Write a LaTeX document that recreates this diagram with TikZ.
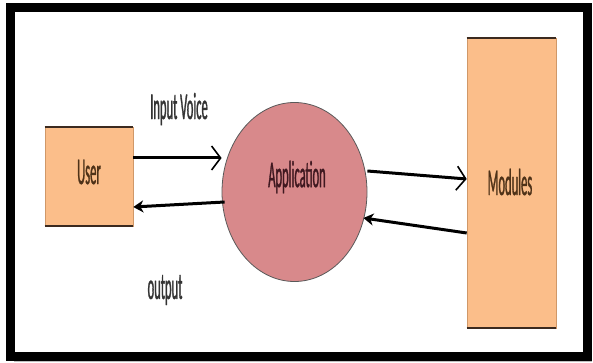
\documentclass[tikz,border=0pt]{standalone}
\usepackage{fontspec}
\newfontfamily\narrowfont[FakeStretch=0.33,FakeBold=0.8]{Carlito}
\usetikzlibrary{arrows.meta,shapes.geometric}
\definecolor{peach}{HTML}{FBBE8A}
\definecolor{rose}{HTML}{D8898B}
\definecolor{boxedge}{HTML}{3B2A1F}
\definecolor{boxside}{HTML}{D09868}
\definecolor{browntext}{HTML}{4E3218}
\definecolor{apptext}{HTML}{3F1820}
\definecolor{labeltext}{HTML}{333333}
\tikzset{
  x=1pt, y=-1pt,
  txt/.style={font=\narrowfont\fontsize{38}{38}\selectfont, inner sep=0pt},
  block/.style={rectangle, fill=peach, draw=boxside, line width=0.6pt, inner sep=0pt},
  blockedge/.style={draw=boxedge, line width=2pt},
  bubble/.style={ellipse, fill=rose, draw=black!65, line width=0.8pt, inner sep=0pt},
  fwd/.style={draw=black, line width=3pt, -{Straight Barb[length=9pt, width=24pt, line width=1.6pt]}},
  back/.style={draw=black, line width=3pt, -{Stealth[length=10pt, width=12pt, inset=3pt]}},
}
\begin{document}
\begin{tikzpicture}
\useasboundingbox (0,0) rectangle (593,363);
% page frame with a faint shadow
\draw[black!25, line width=3pt] (14,360) -- (590,360) -- (590,12);
\draw[black, line width=9pt] (10,8) rectangle (587,356);

% blocks
\node[block, minimum width=88pt, minimum height=99pt] (user) at (89,176.5) {};
\draw[blockedge] (user.north west) -- (user.north east);
\draw[blockedge] (user.south west) -- (user.south east);
\node[txt, text=browntext] (usertext) at (89,172) {User};

\node[block, minimum width=89pt, minimum height=290pt] (modules) at (511.5,183) {};
\draw[blockedge] (modules.north west) -- (modules.north east);
\draw[blockedge] (modules.south west) -- (modules.south east);
\node[txt, text=browntext] (modtext) at (510,182) {Modules};

\node[bubble, minimum width=145pt, minimum height=179pt] (app) at (294.5,192) {};
\node[txt, text=apptext] (apptitle) at (297,177) {Application};

% flows
\draw[fwd] ([yshift=18.5pt]user.east) -- ([yshift=34pt]app.west);
\draw[back] ([xshift=3pt,yshift=-10pt]app.west) -- ([yshift=-30.5pt]user.east);
\draw[fwd] ([yshift=21pt]app.east) -- ([yshift=4pt]modules.west);
\draw[back] ([yshift=-50pt]modules.west) -- ([xshift=-4pt,yshift=-26pt]app.east);

% flow labels
\node[txt, text=labeltext] (inlabel) at (179,109) {Input Voice};
\node[txt, text=labeltext] (outlabel) at (165,290) {output};
\end{tikzpicture}
\end{document}
